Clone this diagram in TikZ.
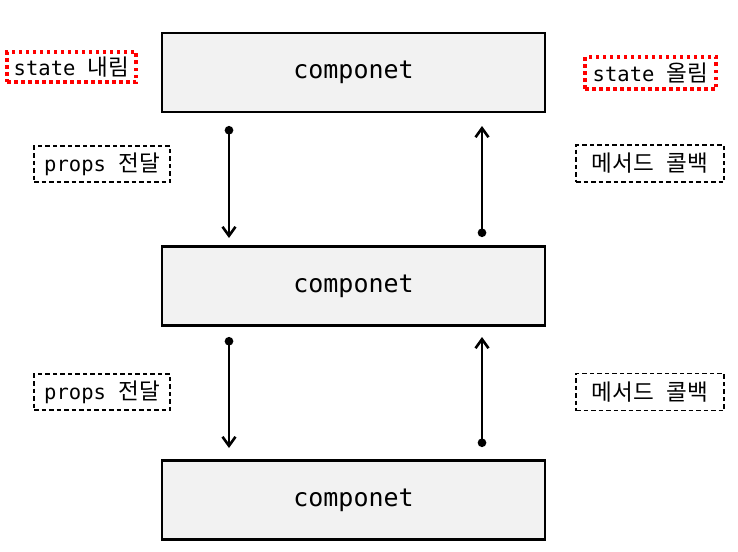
\documentclass[tikz,border=0pt]{standalone}
\usepackage{fontspec}
\setmainfont{DejaVu Sans Mono}
\newfontfamily\kr[Scale=1.1]{Noto Sans CJK KR}
\usetikzlibrary{arrows.meta}
\definecolor{boxfill}{HTML}{F2F2F2}
\tikzset{
  comp/.style={draw=black, line width=2.4pt, fill=boxfill, minimum width=383pt, minimum height=79pt, inner sep=0pt, font=\fontsize{25}{28}\selectfont},
  statebox/.style={draw=red, line width=3.5pt, dash pattern=on 3.5pt off 3.5pt, inner sep=0pt, font=\fontsize{20.5}{23}\selectfont},
  lbl/.style={draw=black, line width=1.2pt, dash pattern=on 4.5pt off 3pt, inner sep=0pt, font=\fontsize{20.5}{23}\selectfont},
  flow/.style={line width=2.6pt, {Circle[length=8.5pt]}-{Straight Barb[length=9pt,width=13pt,line width=2.6pt]}}
}
\begin{document}
\begin{tikzpicture}[x=1pt,y=-1pt]
\useasboundingbox (0,0) rectangle (738,551);
\node[comp] (b1) at (353.5,72.5) {componet};
\node[comp] (b2) at (353.5,286) {componet};
\node[comp] (b3) at (353.5,500) {componet};

\node[statebox, minimum width=129pt, minimum height=30pt] (s1) at (71.5,67) {state {\kr 내림}};
\node[statebox, minimum width=131pt, minimum height=32pt] (s2) at (650.5,73) {state {\kr 올림}};

\node[lbl, minimum width=136pt, minimum height=36pt] (p1) at (102,164) {props {\kr 전달}};
\node[lbl, minimum width=148pt, minimum height=37pt] (m1) at (650,163.5) {{\kr 메서드} {\kr 콜백}};
\node[lbl, minimum width=136pt, minimum height=36pt] (p2) at (102,392) {props {\kr 전달}};
\node[lbl, minimum width=148pt, minimum height=37pt] (m2) at (650,392) {{\kr 메서드} {\kr 콜백}};

\coordinate (a1s) at (229,126);
\coordinate (a1e) at (229,238);
\coordinate (r1s) at (482,237);
\coordinate (r1e) at (482,126);
\coordinate (a2s) at (229,337);
\coordinate (a2e) at (229,448);
\coordinate (r2s) at (482,447);
\coordinate (r2e) at (482,337);
\draw[flow] (a1s) -- (a1e);
\draw[flow] (r1s) -- (r1e);
\draw[flow] (a2s) -- (a2e);
\draw[flow] (r2s) -- (r2e);
\end{tikzpicture}
\end{document}
